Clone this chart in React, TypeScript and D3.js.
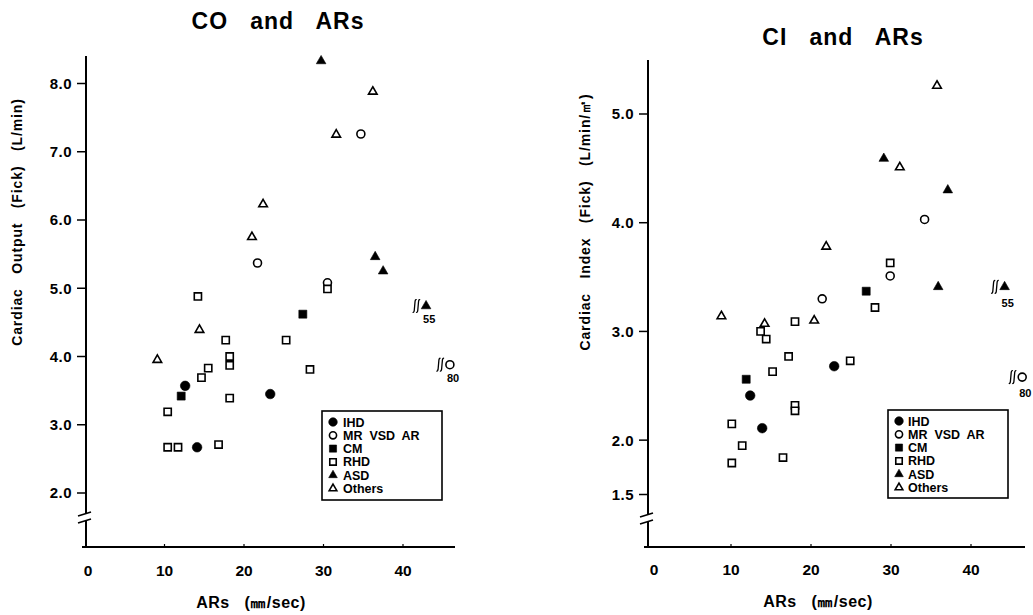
import React from 'react'
import * as d3 from 'd3'

type Pt = [number, number]

// ---- CO and ARs (left panel) ----
const coIHD: Pt[] = [[12.6, 3.57], [23.3, 3.45], [14.1, 2.67]]
const coMR: Pt[] = [[34.7, 7.26], [21.7, 5.37], [30.5, 5.08]]
const coCM: Pt[] = [[27.4, 4.62], [12.1, 3.42]]
const coRHD: Pt[] = [
  [30.5, 4.99], [14.2, 4.88], [17.7, 4.24], [25.3, 4.24], [18.2, 4.0], [18.2, 3.87], [15.5, 3.83],
  [14.65, 3.69], [28.3, 3.81], [18.2, 3.39], [10.4, 3.19], [10.4, 2.67], [11.7, 2.67], [16.8, 2.71]
]
const coASD: Pt[] = [[29.7, 8.33], [36.5, 5.46], [37.5, 5.25]]
const coOthers: Pt[] = [[36.2, 7.88], [31.6, 7.25], [22.4, 6.23], [21.0, 5.75], [14.4, 4.39], [9.1, 3.95]]
// off-scale cases: actual ARs, position drawn past the axis break, value
const coOff = [
  { group: 'ASD', actual: 55, at: 42.9, value: 4.74 },
  { group: 'MR', actual: 80, at: 45.9, value: 3.88 }
]

// ---- CI and ARs (right panel) ----
const ciIHD: Pt[] = [[22.9, 2.68], [12.4, 2.41], [13.9, 2.11]]
const ciMR: Pt[] = [[34.2, 4.03], [29.9, 3.51], [21.4, 3.3]]
const ciCM: Pt[] = [[26.9, 3.37], [11.9, 2.56]]
const ciRHD: Pt[] = [
  [29.9, 3.63], [28.0, 3.22], [18.0, 3.09], [13.7, 3.0], [14.4, 2.93], [17.2, 2.77], [24.9, 2.73],
  [15.2, 2.63], [18.0, 2.32], [18.0, 2.27], [10.1, 2.15], [11.4, 1.95], [16.5, 1.84], [10.1, 1.79]
]
const ciASD: Pt[] = [[29.1, 4.59], [37.1, 4.3], [35.9, 3.41]]
const ciOthers: Pt[] = [[35.75, 5.26], [31.1, 4.51], [21.9, 3.78], [8.8, 3.14], [14.2, 3.07], [20.4, 3.1]]
const ciOff = [
  { group: 'ASD', actual: 55, at: 44.2, value: 3.41 },
  { group: 'MR', actual: 80, at: 46.4, value: 2.58 }
]

const groups = ['IHD', 'MR', 'CM', 'RHD', 'ASD', 'Others']
const legendLabels = ['IHD', 'MR  VSD  AR', 'CM', 'RHD', 'ASD', 'Others']
const xTicks = [0, 10, 20, 30, 40]
const coYTicks = [2, 3, 4, 5, 6, 7, 8]
const ciYTicks = [1.5, 2, 3, 4, 5]

const FONT = '"Liberation Sans", Arial, Helvetica, sans-serif'

const symbolOf: Record<string, { type: d3.SymbolType; filled: boolean; size: number }> = {
  IHD: { type: d3.symbolCircle, filled: true, size: 72 },
  MR: { type: d3.symbolCircle, filled: false, size: 50 },
  CM: { type: d3.symbolSquare, filled: true, size: 64 },
  RHD: { type: d3.symbolSquare, filled: false, size: 52 },
  ASD: { type: d3.symbolTriangle, filled: true, size: 40 },
  Others: { type: d3.symbolTriangle, filled: false, size: 32 }
}

// the little "∫∫" break sign drawn in front of an off-scale point
const integral = 'M2.6,-6.2 Q1.4,-7 1,-4.5 L0.2,4.5 Q-0.2,7 -1.4,6.2'

function Marker({ group, x, y, scale = 1 }: { group: string; x: number; y: number; scale?: number }) {
  const s = symbolOf[group]
  const d = d3.symbol().type(s.type).size(s.size * scale)() || ''
  return (
    <path
      d={d}
      transform={`translate(${x},${y})`}
      fill={s.filled ? '#000' : '#fff'}
      stroke="#000"
      strokeWidth={s.filled ? 0.6 : 1.6}
    />
  )
}

type PanelProps = {
  title: string
  titleX: number
  titleY: number
  yLabel: string
  yLabelX: number
  axisX: number
  axisTop: number
  axisBottom: number
  axisRight: number
  breakY: number
  x: d3.ScaleLinear<number, number>
  y: d3.ScaleLinear<number, number>
  yTicks: number[]
  series: Record<string, Pt[]>
  off: { group: string; actual: number; at: number; value: number }[]
  legend: { x: number; y: number; w: number; h: number; symX: number; textX: number }
  tickLabelY: number
  xLabelY: number
  subOffset: number
}

function Panel(p: PanelProps) {
  const fmt = d3.format('.1f')
  const xMid = (p.x(0) + p.x(40)) / 2 + 7
  return (
    <g fontFamily={FONT}>
      <text x={p.titleX} y={p.titleY} textAnchor="middle" fontSize={23} fontWeight="bold" letterSpacing={1} style={{ whiteSpace: 'pre' }}>
        {p.title}
      </text>
      {/* y axis with break */}
      <line x1={p.axisX} x2={p.axisX} y1={p.axisTop} y2={p.breakY - 3} stroke="#000" strokeWidth={2} />
      <line x1={p.axisX} x2={p.axisX} y1={p.breakY + 5} y2={p.axisBottom} stroke="#000" strokeWidth={2} />
      <line x1={p.axisX - 8} x2={p.axisX + 5} y1={p.breakY} y2={p.breakY - 4} stroke="#000" strokeWidth={1.8} />
      <line x1={p.axisX - 8} x2={p.axisX + 5} y1={p.breakY + 7} y2={p.breakY + 3} stroke="#000" strokeWidth={1.8} />
      {/* x axis */}
      <line x1={p.axisX - 4} x2={p.axisRight} y1={p.axisBottom} y2={p.axisBottom} stroke="#000" strokeWidth={2} />
      {p.yTicks.map(t => (
        <g key={`y${t}`}>
          <line x1={p.axisX - 9} x2={p.axisX} y1={p.y(t)} y2={p.y(t)} stroke="#000" strokeWidth={1.5} />
          <text x={p.axisX - 14} y={p.y(t)} dy="0.36em" textAnchor="end" fontSize={15} fontWeight="bold" letterSpacing={0.5}>
            {fmt(t)}
          </text>
        </g>
      ))}
      {xTicks.map(t => (
        <g key={`x${t}`}>
          {t > 0 && <line x1={p.x(t)} x2={p.x(t)} y1={p.axisBottom} y2={p.axisBottom - 3} stroke="#000" strokeWidth={1.2} />}
          <text x={p.x(t) + (t === 0 ? 3 : 0)} y={p.tickLabelY} textAnchor="middle" fontSize={15.5} fontWeight="bold">
            {t}
          </text>
        </g>
      ))}
      <text x={xMid} y={p.xLabelY} textAnchor="middle" fontSize={16} fontWeight="bold" letterSpacing={0.5} style={{ whiteSpace: 'pre' }}>
        {'ARs   (㎜/sec)'}
      </text>
      <text
        transform={`translate(${p.yLabelX},222) rotate(-90)`}
        textAnchor="middle"
        dy="0.35em"
        fontSize={14}
        fontWeight="bold"
        letterSpacing={0.9}
        style={{ whiteSpace: 'pre' }}
      >
        {p.yLabel}
      </text>
      {/* points */}
      {groups.map(g =>
        p.series[g].map((d, i) => <Marker key={`${g}${i}`} group={g} x={p.x(d[0])} y={p.y(d[1])} />)
      )}
      {p.off.map(o => {
        const px = p.x(o.at)
        const py = p.y(o.value)
        return (
          <g key={`off${o.actual}`}>
            <path d={integral} transform={`translate(${px - 12},${py})`} fill="none" stroke="#000" strokeWidth={1.3} />
            <path d={integral} transform={`translate(${px - 8.5},${py})`} fill="none" stroke="#000" strokeWidth={1.3} />
            <Marker group={o.group} x={px} y={py} />
            <text x={px - 3} y={py + p.subOffset} fontSize={11} fontWeight="bold">
              {o.actual}
            </text>
          </g>
        )
      })}
      {/* legend */}
      <rect x={p.legend.x} y={p.legend.y} width={p.legend.w} height={p.legend.h} fill="#fff" stroke="#000" strokeWidth={1.6} />
      {groups.map((g, i) => {
        const ly = p.legend.y + 11 + i * 13.3
        return (
          <g key={`lg${g}`}>
            <Marker group={g} x={p.legend.symX} y={ly} scale={0.8} />
            <text x={p.legend.textX} y={ly} dy="0.36em" fontSize={12.5} fontWeight="bold" style={{ whiteSpace: 'pre' }}>
              {legendLabels[i]}
            </text>
          </g>
        )
      })}
    </g>
  )
}

export default function App() {
  const coX = d3.scaleLinear().domain([0, 40]).range([85, 403])
  const coY = d3.scaleLinear().domain([2, 8]).range([493, 83.5])
  const ciX = d3.scaleLinear().domain([0, 40]).range([651, 971])
  const ciY = d3.scaleLinear().domain([1.5, 5]).range([494.5, 114])

  return (
    <svg width={1033} height={615} viewBox="0 0 1033 615" style={{ position: 'absolute', left: 0, top: 0, background: '#fff' }}>
      <rect width={1033} height={615} fill="#fff" />
      <Panel
        title="CO   and   ARs"
        titleX={278}
        titleY={29}
        yLabel="Cardiac   Output   (Fick)   (L/min)"
        yLabelX={17}
        axisX={86}
        axisTop={56}
        axisBottom={547}
        axisRight={455}
        breakY={516}
        x={coX}
        y={coY}
        yTicks={coYTicks}
        series={{ IHD: coIHD, MR: coMR, CM: coCM, RHD: coRHD, ASD: coASD, Others: coOthers }}
        off={coOff}
        legend={{ x: 322, y: 411, w: 120, h: 89, symX: 333, textX: 343 }}
        tickLabelY={576}
        xLabelY={608}
        subOffset={17}
      />
      <Panel
        title="CI   and   ARs"
        titleX={843}
        titleY={45}
        yLabel="Cardiac   Index   (Fick)   (L/min/㎡)"
        yLabelX={585}
        axisX={648}
        axisTop={60}
        axisBottom={547}
        axisRight={1025}
        breakY={517}
        x={ciX}
        y={ciY}
        yTicks={ciYTicks}
        series={{ IHD: ciIHD, MR: ciMR, CM: ciCM, RHD: ciRHD, ASD: ciASD, Others: ciOthers }}
        off={ciOff}
        legend={{ x: 888, y: 410, w: 120, h: 88, symX: 899, textX: 908 }}
        tickLabelY={575}
        xLabelY={607}
        subOffset={20}
      />
    </svg>
  )
}
